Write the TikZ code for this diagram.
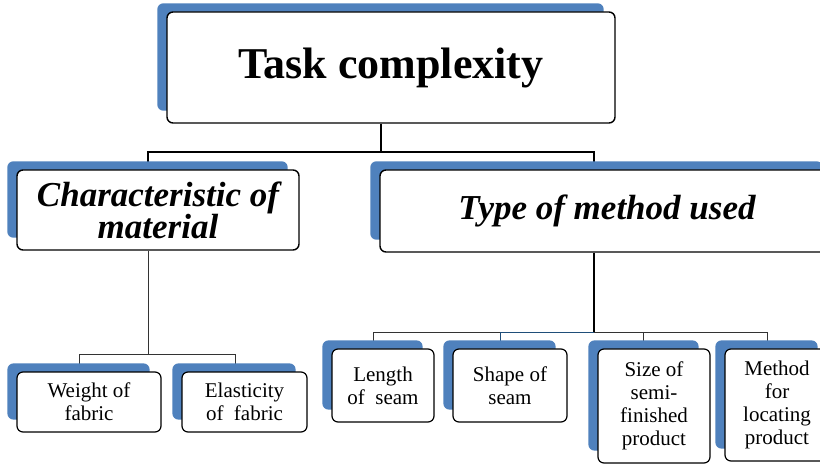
\documentclass[tikz,border=0pt]{standalone}
\usepackage{fontspec}
\setmainfont{Liberation Serif}
\usetikzlibrary{backgrounds}
\definecolor{boxblue}{RGB}{79,129,189}
\definecolor{linkblue}{RGB}{31,78,121}
\tikzset{
  box/.style={draw=black, line width=1.4pt, fill=white, rounded corners=6pt,
              align=center, inner sep=0pt},
  topbox/.style={box, font=\bfseries\fontsize{44}{48}\selectfont},
  midbox/.style={box, font=\bfseries\itshape\fontsize{35}{32}\selectfont},
  leafbox/.style={box, line width=1.2pt, font=\fontsize{21}{23}\selectfont},
  trunk/.style={line width=1.8pt, draw=black},
  twig/.style={line width=0.9pt, draw=black!80},
  backdrop/.style={fill=boxblue, rounded corners=6pt},
}
\begin{document}
\begin{tikzpicture}[x=1pt,y=-1pt]
\useasboundingbox (0,0) rectangle (820,465);

% boxes
\node[topbox, minimum width=448pt, minimum height=111pt] (task) at (391,67.5) {Task complexity};
\node[midbox, minimum width=282pt, minimum height=80pt] (char) at (158,210) {Characteristic of\\material};
\node[midbox, minimum width=454pt, minimum height=82pt] (type) at (607,211) {Type of method used};
\node[leafbox, minimum width=144pt, minimum height=60pt] (weight) at (89,402) {Weight of\\fabric};
\node[leafbox, minimum width=125pt, minimum height=60pt] (elast) at (244.5,402) {Elasticity\\of\ \ fabric};
\node[leafbox, minimum width=102pt, minimum height=73pt] (length) at (383,385.5) {Length\\of\ \ seam};
\node[leafbox, minimum width=114pt, minimum height=73pt] (shape) at (510,385.5) {Shape of\\seam};
\node[leafbox, minimum width=112pt, minimum height=114pt] (size) at (654,406) {Size of\\semi-\\finished\\product};
\node[leafbox, minimum width=104pt, minimum height=112pt] (method) at (777,405) {Method\\for\\locating\\product};

% junction points of the tree
\coordinate (rootfork) at (381,152);
\coordinate (leftdrop) at (148,152);
\coordinate (rightdrop) at (594,152);
\coordinate (matfork) at (148,354);
\coordinate (wdrop) at (79,354);
\coordinate (edrop) at (235,354);
\coordinate (mfork) at (594,332);
\coordinate (ldrop) at (373,332);
\coordinate (sdrop) at (500,332);
\coordinate (zdrop) at (643,332);
\coordinate (mdrop) at (767,332);

\begin{pgfonlayer}{background}
  % connectors
  \draw[trunk] (task.south -| rootfork) -- (rootfork);
  \draw[trunk] (leftdrop |- char.north) -- (leftdrop) -- (rightdrop) -- (rightdrop |- type.north);
  \draw[twig] (char.south -| matfork) -- (matfork);
  \draw[twig] (wdrop |- weight.north) -- (wdrop) -- (edrop) -- (edrop |- elast.north);
  \draw[trunk, line width=1.4pt] (type.south -| mfork) -- (mfork);
  \draw[twig] (ldrop |- length.north) -- (ldrop) -- (sdrop);
  \draw[twig, draw=linkblue] (sdrop |- shape.north) -- (sdrop) -- (mfork);
  \draw[twig] (mfork) -- (mdrop) -- (mdrop |- method.north);
  \draw[twig] (zdrop) -- (zdrop |- size.north);
  % blue backdrops behind every box
  \foreach \n in {task,char,type,weight,elast,length,shape,size,method}
    \fill[backdrop] ([shift={(-9,-8)}]\n.north west) rectangle ([shift={(-12,-13)}]\n.south east);
\end{pgfonlayer}
\end{tikzpicture}
\end{document}
